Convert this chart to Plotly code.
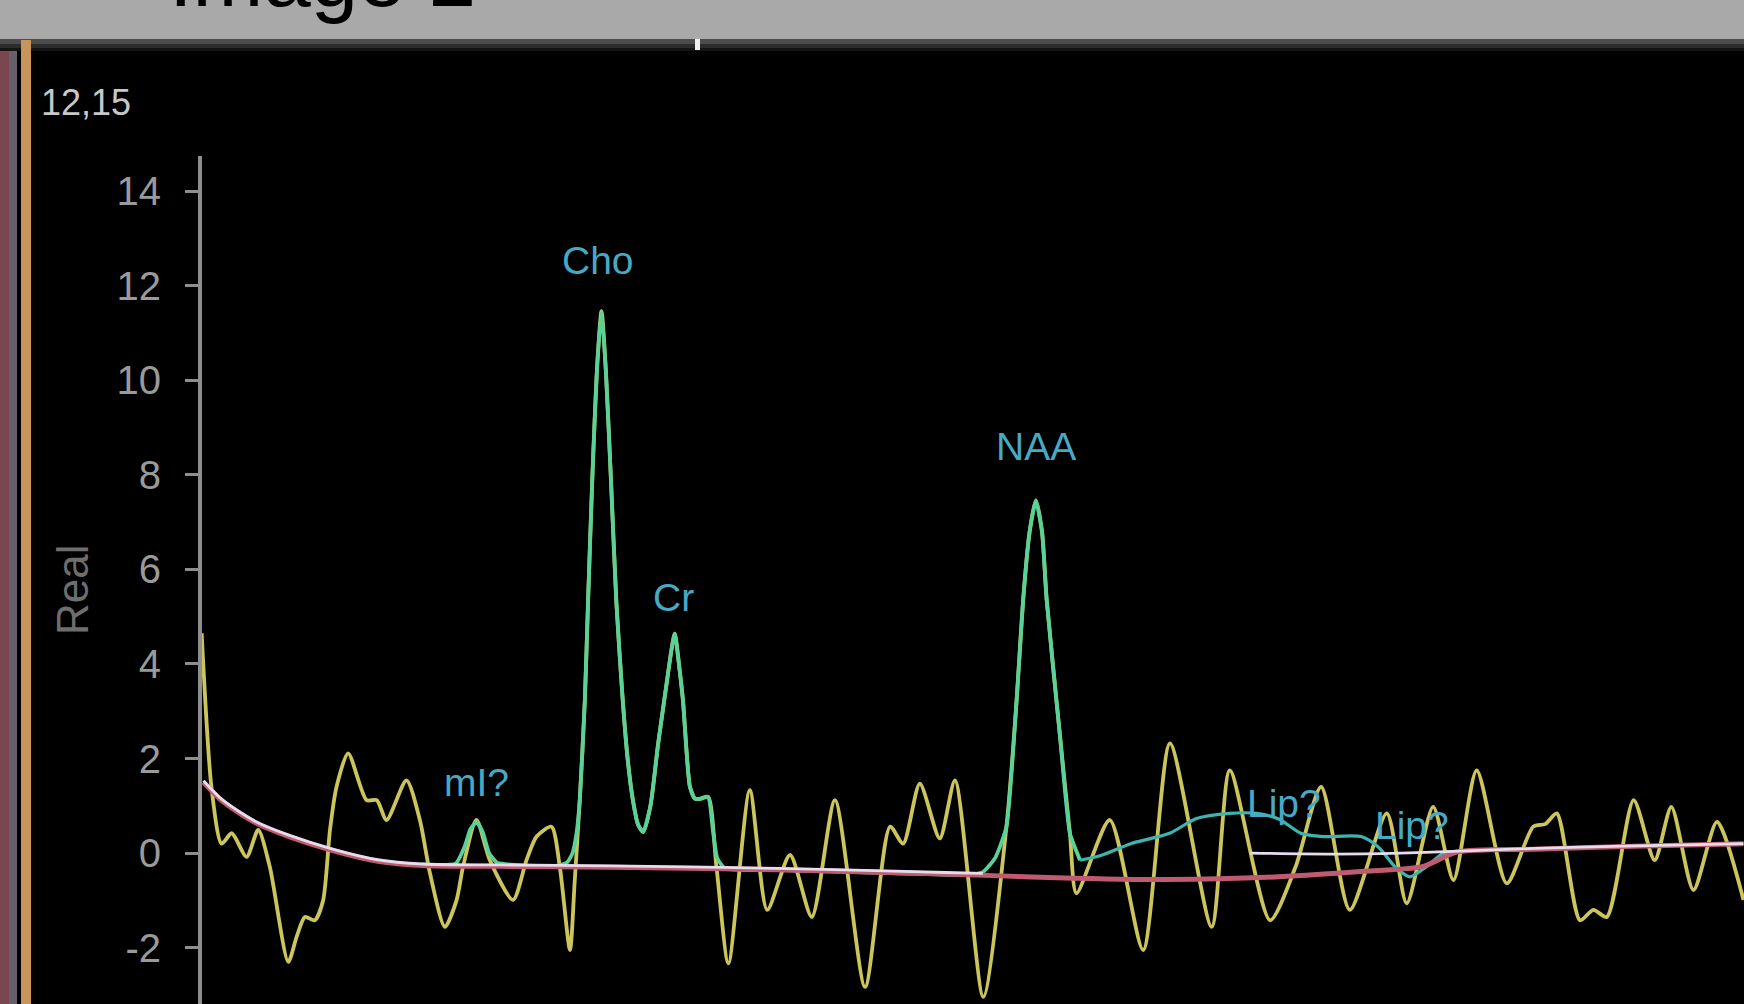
import plotly.graph_objects as go

# ---------------- data (chemical shift in ppm, amplitude "Real") ----------------
raw_ppm = [4.303, 4.276, 4.248, 4.220, 4.179, 4.147, 4.115, 4.064, 4.041, 4.018,
           3.991, 3.968, 3.949, 3.931, 3.899, 3.848, 3.820, 3.793, 3.738, 3.701,
           3.673, 3.632, 3.600, 3.582, 3.545, 3.508, 3.444, 3.407, 3.379, 3.338,
           3.315, 3.287, 3.274,
           3.260, 3.246, 3.237, 3.225, 3.212, 3.200, 3.188, 3.174, 3.159, 3.143,
           3.128, 3.113, 3.099, 3.085, 3.065, 3.044, 3.022, 3.007, 2.998,
           2.985, 2.975, 2.964, 2.956, 2.942, 2.927, 2.906,
           2.883, 2.850, 2.791, 2.743, 2.680, 2.620, 2.556, 2.473, 2.404, 2.368,
           2.322, 2.267, 2.225, 2.147,
           2.083, 2.055, 2.037, 2.019, 2.002, 1.985, 1.972, 1.936, 1.908,
           1.890, 1.798, 1.706, 1.632, 1.517, 1.467, 1.356, 1.286, 1.215, 1.136,
           1.034, 0.979, 0.906, 0.850, 0.786, 0.703, 0.630, 0.596, 0.565, 0.501,
           0.464, 0.427, 0.353, 0.295, 0.249, 0.188, 0.123, 0.050]
raw_val = [4.65, 1.40, 0.20, 0.42, -0.08, 0.49, -0.29, -2.30, -1.77, -1.35,
           -1.42, -1.00, 0.49, 1.40, 2.11, 1.12, 1.12, 0.70, 1.54, 0.70,
           -0.43, -1.56, -1.00, -0.29, 0.70, -0.15, -0.99, -0.15, 0.35, 0.56,
           -0.29, -2.05, -0.60,
           1.12, 3.23, 5.35, 8.00, 10.30, 11.46, 10.20, 7.90, 5.30, 3.40,
           2.00, 1.10, 0.60, 0.45, 1.00, 2.30, 3.50, 4.30, 4.64,
           3.90, 3.20, 2.00, 1.40, 1.15, 1.15, 1.19,
           -0.29, -2.33, 1.33, -1.20, -0.04, -1.35, 1.12, -2.83, 0.56, 0.20,
           1.47, 0.31, 1.54, -3.04,
           0.56, 3.23, 5.35, 6.80, 7.46, 6.80, 5.35, 2.53, 0.42,
           -0.85, 0.70, -2.05, 2.32, -1.56, 1.75, -1.42, -0.30, 1.40, -1.20,
           0.84, -1.06, 0.98, -0.57, 1.75, -0.64, 0.56, 0.62, 0.84, -1.42,
           -1.20, -1.35, 1.12, -0.15, 0.98, -0.78, 0.66, -0.99]

fit_ppm = [3.694, 3.602, 3.577, 3.562, 3.545, 3.528, 3.510, 3.488, 3.418, 3.326,
           3.295, 3.280, 3.269,
           3.260, 3.246, 3.237, 3.225, 3.212, 3.200, 3.188, 3.174, 3.159, 3.143,
           3.128, 3.113, 3.099, 3.085, 3.065, 3.044, 3.022, 3.007, 2.998,
           2.985, 2.975, 2.964, 2.956, 2.942, 2.927, 2.906,
           2.893, 2.881, 2.860, 2.712, 2.406, 2.191, 2.148, 2.114,
           2.083, 2.055, 2.037, 2.019, 2.002, 1.985, 1.972, 1.936, 1.908, 1.880]
fit_val = [-0.24, -0.22, 0.15, 0.50, 0.66, 0.45, 0.00, -0.20, -0.26, -0.27,
           -0.20, 0.00, 0.42,
           1.12, 3.23, 5.35, 8.00, 10.30, 11.46, 10.20, 7.90, 5.30, 3.40,
           2.00, 1.10, 0.60, 0.45, 1.00, 2.30, 3.50, 4.30, 4.64,
           3.90, 3.20, 2.00, 1.40, 1.15, 1.15, 1.19,
           0.50, -0.10, -0.32, -0.36, -0.42, -0.46, -0.40, -0.10,
           0.56, 3.23, 5.35, 6.80, 7.46, 6.80, 5.35, 2.53, 0.42, -0.15]

lip_ppm = [1.880, 1.823, 1.740, 1.633, 1.559, 1.467, 1.393, 1.332, 1.271, 1.209,
           1.105, 1.056, 1.010, 0.970, 0.927, 0.878, 0.826]
lip_val = [-0.15, -0.05, 0.20, 0.42, 0.73, 0.84, 0.84, 0.72, 0.42, 0.35,
           0.35, 0.12, -0.30, -0.50, -0.30, 0.00, 0.05]

base_ppm = [4.298, 4.246, 4.154, 4.062, 3.939, 3.817, 3.694, 3.479, 3.172, 2.866,
            2.559, 2.252, 1.945, 1.639, 1.332, 1.087, 0.933, 0.841, 0.626, 0.381, 0.050]
base_val = [1.50, 1.10, 0.64, 0.35, 0.05, -0.17, -0.26, -0.28, -0.30, -0.33,
            -0.38, -0.44, -0.52, -0.56, -0.50, -0.38, -0.28, 0.02, 0.08, 0.14, 0.20]

white_ppm = [4.298, 4.246, 4.154, 4.062, 3.939, 3.817, 3.694, 3.479, 3.172, 2.866,
             2.559, 2.252, 2.148, None,
             1.410, 1.180, 0.996, 0.872, 0.626, 0.381, 0.050]
white_val = [1.53, 1.13, 0.67, 0.38, 0.08, -0.14, -0.23, -0.25, -0.27, -0.30,
             -0.35, -0.41, -0.43, None,
             0.00, -0.02, 0.00, 0.03, 0.10, 0.15, 0.20]

peak_names = ["mI?", "Cho", "Cr", "NAA", "Lip?", "Lip?"]
peak_ppm = [3.544, 3.209, 3.001, 2.001, 1.317, 0.964]
peak_lab_y = [1.50, 12.52, 5.41, 8.59, 1.06, 0.59]

y_ticks = [-2, 0, 2, 4, 6, 8, 10, 12, 14]

# ---------------- figure ----------------
W, H = 1744, 1004
ML, MT = 202, 156


def X(px):
    return (px - ML) / (W - ML)


def Y(py):
    return (H - py) / (H - MT)


fig = go.Figure()
fig.add_trace(go.Scatter(x=raw_ppm, y=raw_val, mode="lines",
                         line=dict(color="#cbc55c", width=3.8, shape="spline", smoothing=0.7),
                         hoverinfo="skip"))
fig.add_trace(go.Scatter(x=fit_ppm, y=fit_val, mode="lines",
                         line=dict(color="#58d296", width=3.8, shape="spline", smoothing=0.5),
                         hoverinfo="skip"))
fig.add_trace(go.Scatter(x=lip_ppm, y=lip_val, mode="lines",
                         line=dict(color="#3cb4b0", width=3.2, shape="spline", smoothing=0.7),
                         hoverinfo="skip"))
fig.add_trace(go.Scatter(x=base_ppm, y=base_val, mode="lines",
                         line=dict(color="#c05a70", width=5, shape="spline", smoothing=0.8),
                         hoverinfo="skip"))
fig.add_trace(go.Scatter(x=white_ppm, y=white_val, mode="lines", connectgaps=False,
                         line=dict(color="#e6dcee", width=2.8, shape="spline", smoothing=0.8),
                         hoverinfo="skip"))

for name, px_, py_ in zip(peak_names, peak_ppm, peak_lab_y):
    fig.add_annotation(x=px_, y=py_, text=name, showarrow=False,
                       font=dict(family="Liberation Sans, Arial", size=39, color="#46a9c6"),
                       xanchor="center", yanchor="middle")

# decorations: screenshot frame
shapes = [
    dict(type="rect", xref="paper", yref="paper", x0=X(0), x1=X(W), y0=Y(39), y1=Y(-10),
         fillcolor="#a9a9a9", line=dict(width=0)),
    dict(type="rect", xref="paper", yref="paper", x0=X(0), x1=X(W), y0=Y(44), y1=Y(39),
         fillcolor="#4c4c4c", line=dict(width=0)),
    dict(type="rect", xref="paper", yref="paper", x0=X(0), x1=X(W), y0=Y(48), y1=Y(44),
         fillcolor="#2c2c2c", line=dict(width=0)),
    dict(type="rect", xref="paper", yref="paper", x0=X(0), x1=X(W), y0=Y(51), y1=Y(48),
         fillcolor="#141414", line=dict(width=0)),
    dict(type="rect", xref="paper", yref="paper", x0=X(0), x1=X(9), y0=Y(H), y1=Y(51),
         fillcolor="#7a4650", line=dict(width=0)),
    dict(type="rect", xref="paper", yref="paper", x0=X(9), x1=X(17), y0=Y(H), y1=Y(51),
         fillcolor="#66606a", line=dict(width=0)),
    dict(type="rect", xref="paper", yref="paper", x0=X(21), x1=X(31), y0=Y(H), y1=Y(40),
         fillcolor="#c8945a", line=dict(width=0)),
    dict(type="rect", xref="paper", yref="paper", x0=X(695), x1=X(700), y0=Y(50), y1=Y(39),
         fillcolor="#f0f0f0", line=dict(width=0)),
]

fig.add_annotation(xref="paper", yref="paper", x=X(167), y=Y(26), text="Image 2",
                   showarrow=False, xanchor="left", yanchor="bottom",
                   font=dict(family="Liberation Sans, Arial", size=85, color="#000000"))
fig.add_annotation(xref="paper", yref="paper", x=X(39), y=Y(102), text="12,15",
                   showarrow=False, xanchor="left", yanchor="middle",
                   font=dict(family="Liberation Sans, Arial", size=36, color="#c8c8c8"))
fig.add_annotation(xref="paper", yref="paper", x=X(72), y=Y(590), text="Real",
                   showarrow=False, textangle=-90, xanchor="center", yanchor="middle",
                   font=dict(family="Liberation Sans, Arial", size=44, color="#6e6e6e"))

fig.update_layout(
    width=W, height=H, autosize=False,
    margin=dict(l=ML, r=0, t=MT, b=0, pad=0),
    paper_bgcolor="#000000", plot_bgcolor="#000000",
    showlegend=False, shapes=shapes,
    xaxis=dict(range=[4.302, 0.0486], visible=False, showgrid=False, zeroline=False),
    yaxis=dict(range=[-3.19, 14.74], tickvals=y_ticks, ticktext=[str(v) for v in y_ticks],
               showline=True, linecolor="#8e8e8e", linewidth=4,
               ticks="outside", ticklen=13, tickwidth=3, tickcolor="#8e8e8e",
               ticklabelstandoff=16,
               tickfont=dict(family="Liberation Sans, Arial", size=40, color="#9a9a9a"),
               showgrid=False, zeroline=False),
)

fig.write_html("out.html", config={"displayModeBar": False},
               post_script="document.body.style.margin='0';document.body.style.overflow='hidden';")
